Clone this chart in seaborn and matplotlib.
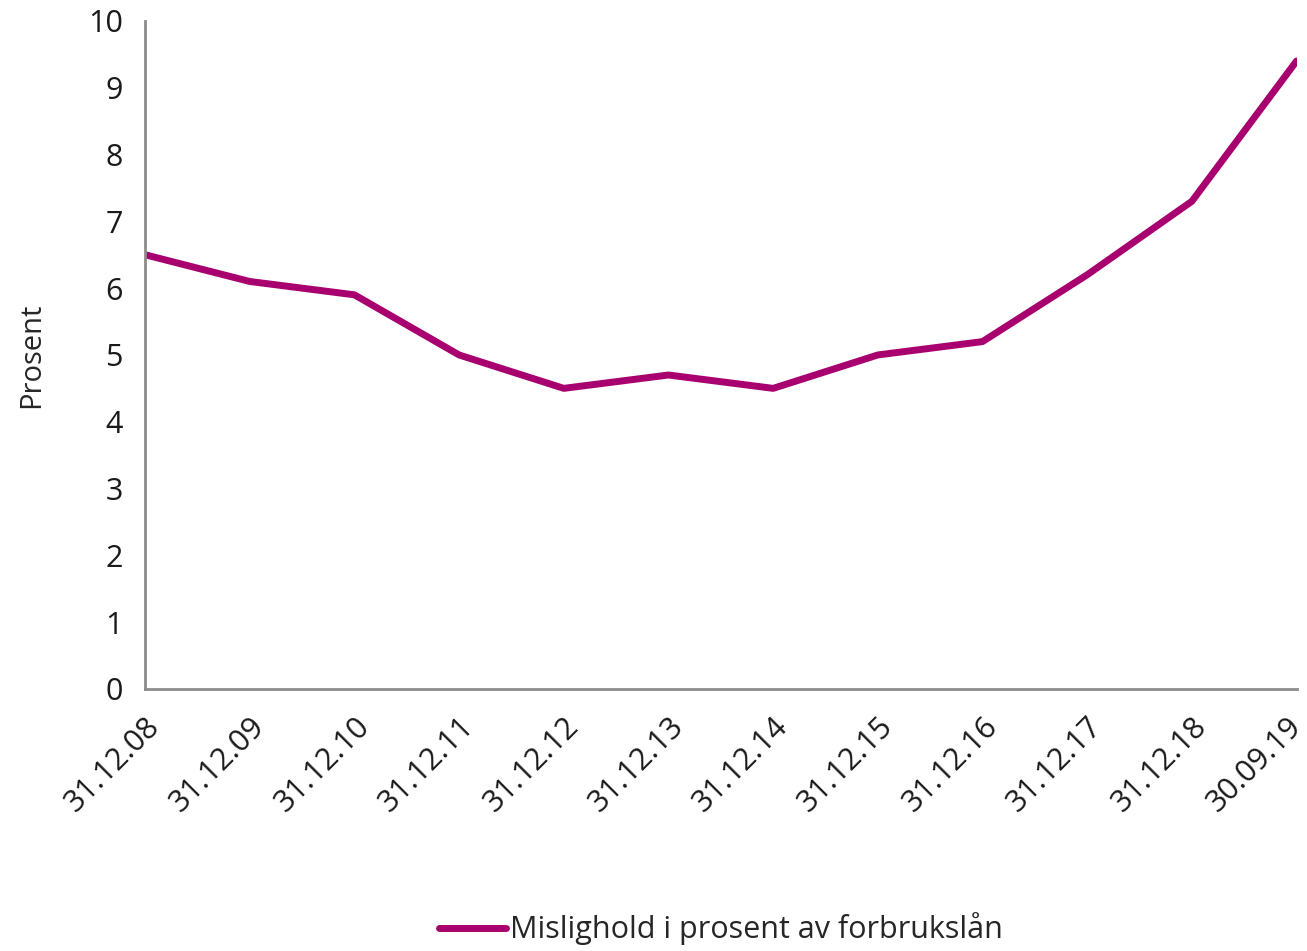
import seaborn as sns
import matplotlib.pyplot as plt
import matplotlib.transforms as mtransforms
import pandas as pd

# Mislighold i prosent av forbrukslån
dates = ['31.12.08', '31.12.09', '31.12.10', '31.12.11', '31.12.12', '31.12.13',
         '31.12.14', '31.12.15', '31.12.16', '31.12.17', '31.12.18', '30.09.19']
values = [6.5, 6.1, 5.9, 5.0, 4.5, 4.7, 4.5, 5.0, 5.2, 6.2, 7.3, 9.4]
series_name = 'Mislighold i prosent av forbrukslån'

df = pd.DataFrame({'Dato': dates, 'Prosent': values, 'Serie': series_name})

sns.set_style("white")
plt.rcParams['font.family'] = ['Open Sans', 'DejaVu Sans']

fig = plt.figure(figsize=(13.07, 9.51), dpi=100)
ax = fig.add_axes([0.111, 0.2755, 0.881, 0.7025])

sns.lineplot(data=df, x='Dato', y='Prosent', hue='Serie', sort=False,
             palette=['#A8006E'], linewidth=5, ax=ax)

ax.set_xlim(0, len(dates) - 1)
ax.set_ylim(0, 10)
ax.set_yticks(range(0, 11))
ax.set_xlabel('')
ax.set_ylabel('Prosent', fontsize=21, labelpad=30)

for side in ['top', 'right']:
    ax.spines[side].set_visible(False)
for side in ['left', 'bottom']:
    ax.spines[side].set_color('#8c8c8c')
    ax.spines[side].set_linewidth(2)

ax.tick_params(axis='both', direction='out', length=8, width=2, color='#8c8c8c',
               labelsize=22, labelcolor='#1a1a1a')
ax.tick_params(axis='y', pad=8)
ax.tick_params(axis='x', pad=8)
labels = ax.get_xticklabels()
plt.setp(labels, rotation=45, ha='right', rotation_mode='anchor')
# nudge the last label a bit left so it stays inside the figure
shift = mtransforms.ScaledTranslation(-10 / 100, 0, fig.dpi_scale_trans)
labels[-1].set_transform(labels[-1].get_transform() + shift)

leg = ax.legend(loc='lower center', bbox_to_anchor=(0.5, -0.425), frameon=False,
                fontsize=22, handlelength=2.2, handletextpad=0.1)
for line in leg.get_lines():
    line.set_linewidth(5)

plt.savefig("out.png", dpi=100)
plt.close()
